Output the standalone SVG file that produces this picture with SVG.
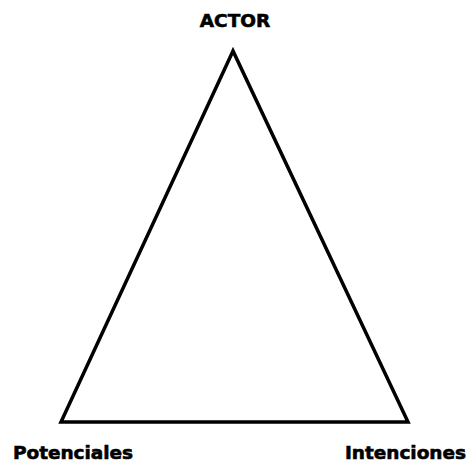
<svg xmlns="http://www.w3.org/2000/svg" width="467" height="464" viewBox="0 0 467 464">
<style>
.lbl{font-family:"DejaVu Sans","Verdana",sans-serif;font-weight:bold;font-size:18.5px;fill:#000;stroke:#000;stroke-width:0.6}
</style>
<rect width="467" height="464" fill="#fff"/>
<g id="connectors">
<polygon points="233,51 61,422 408,422" fill="none" stroke="#000" stroke-width="3.5" stroke-linejoin="miter"/>
</g>
<g id="actor"><text class="lbl" x="235" y="27" text-anchor="middle">ACTOR</text></g>
<g id="potenciales"><text class="lbl" x="13" y="459" textLength="120">Potenciales</text></g>
<g id="intenciones"><text class="lbl" x="345" y="459" textLength="121">Intenciones</text></g>
</svg>
